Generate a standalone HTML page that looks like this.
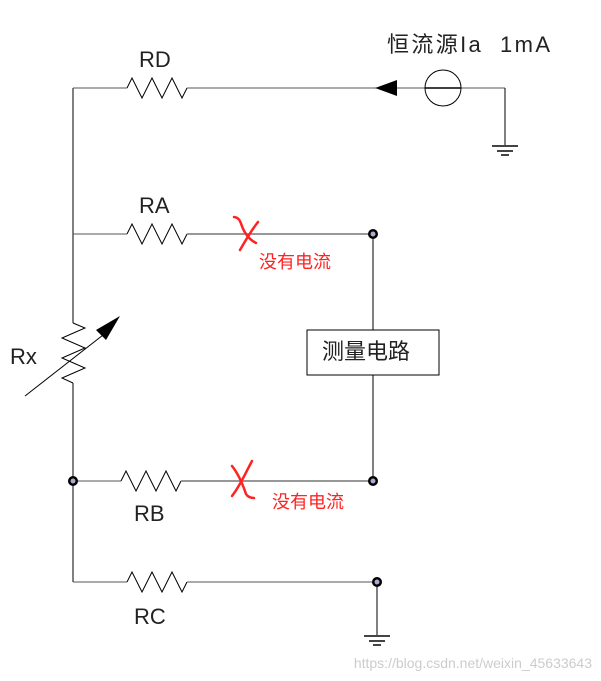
<!DOCTYPE html>
<html><head><meta charset="utf-8"><style>body{margin:0;background:#fff}svg{display:block}</style></head><body>
<svg width="601" height="681" xmlns="http://www.w3.org/2000/svg" font-family="Liberation Sans, Noto Sans CJK SC, sans-serif">
<g stroke="#000" stroke-width="1" fill="none">
<line x1="73" y1="88" x2="73" y2="323"/>
<line x1="73" y1="383" x2="73" y2="582"/>
<line x1="73" y1="88" x2="127" y2="88" stroke="#555"/>
<polyline points="127,88 132,78 142,98 152,78 162,98 172,78 182,98 187,88"/>
<line x1="187" y1="88" x2="505" y2="88" stroke="#555"/>
<circle cx="443" cy="88" r="18"/>
<line x1="425" y1="88" x2="461" y2="88" stroke="#000" stroke-width="1.5"/>
<line x1="505" y1="88" x2="505" y2="146"/>
<line x1="73" y1="234" x2="127" y2="234" stroke="#555"/>
<polyline points="127,234 132,224 142,244 152,224 162,244 172,224 182,244 187,234"/>
<line x1="187" y1="234" x2="373" y2="234" stroke="#777" stroke-width="1.5"/>
<line x1="373" y1="234" x2="373" y2="330"/>
<rect x="307" y="330" width="132" height="45"/>
<line x1="373" y1="375" x2="373" y2="481"/>
<polyline points="73,323 85,328 62,338 85,348 62,358 85,368 62,378 73,383"/>
<line x1="25" y1="396" x2="112" y2="328"/>
<line x1="73" y1="481" x2="121" y2="481" stroke="#555"/>
<polyline points="121,481 126,471 136,491 146,471 156,491 166,471 176,491 181,481"/>
<line x1="181" y1="481" x2="373" y2="481" stroke="#777" stroke-width="1.5"/>
<line x1="73" y1="582" x2="127" y2="582" stroke="#555"/>
<polyline points="127,582 132,572 142,592 152,572 162,592 172,572 182,592 187,582"/>
<line x1="187" y1="582" x2="377" y2="582" stroke="#555"/>
<line x1="377" y1="582" x2="377" y2="636"/>
</g>
<g stroke="#444" stroke-width="2">
<line x1="492" y1="146" x2="518" y2="146"/><line x1="497" y1="151" x2="513" y2="151"/><line x1="501" y1="155" x2="509" y2="155"/>
<line x1="364" y1="636" x2="390" y2="636"/><line x1="369" y1="641" x2="385" y2="641"/><line x1="373" y1="645" x2="381" y2="645"/>
</g>
<polygon points="375,88 397,80 397,96" fill="#000"/>
<polygon points="120,316 96,330 106,340" fill="#000"/>
<g fill="#000"><circle cx="373" cy="234" r="5"/><circle cx="373" cy="481" r="5"/><circle cx="73" cy="481" r="5"/><circle cx="377" cy="582" r="5"/></g>
<g fill="#aac"><circle cx="373" cy="234" r="2.5"/><circle cx="373" cy="481" r="2.5"/><circle cx="73" cy="481" r="2.5"/><circle cx="377" cy="582" r="2.5"/></g>
<g stroke="#f22" stroke-width="2.5" fill="none" stroke-linecap="round">
<path d="M234,217 C242,218 240,226 246,234 C250,240 254,242 256,243"/>
<path d="M258,222 C250,232 246,240 240,250"/>
<path d="M232,466 C240,476 244,488 246,494 C247,496 250,498 254,498"/>
<path d="M252,461 C246,472 240,486 232,496"/>
</g>
<g font-size="22" fill="#222">
<text x="139" y="67">RD</text>
<text x="139" y="213">RA</text>
<text x="134" y="521">RB</text>
<text x="134" y="624">RC</text>
<text x="10" y="364">Rx</text>
<text x="387" y="52" font-size="22" textLength="163" lengthAdjust="spacing">恒流源Ia&#160;&#160;1mA</text>
<text x="322" y="359" font-size="22">测量电路</text>
</g>
<g font-size="18" fill="#f22">
<text x="259" y="268">没有电流</text>
<text x="272" y="508">没有电流</text>
</g>
<text x="592" y="668" font-size="14" fill="#ccc" text-anchor="end">https://blog.csdn.net/weixin_45633643</text>
</svg>
</body></html>
